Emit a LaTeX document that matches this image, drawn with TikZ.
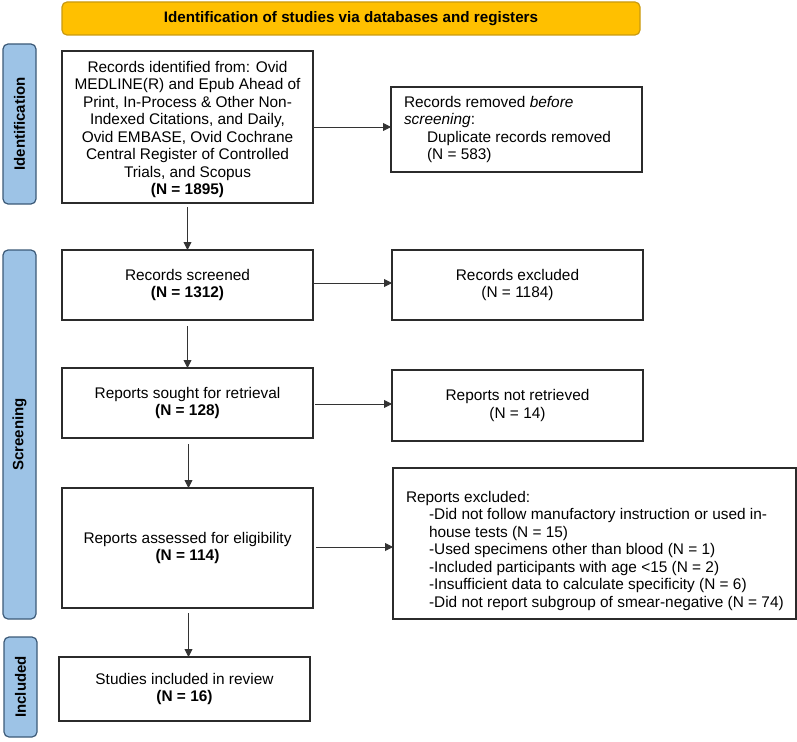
\documentclass[tikz,border=0pt]{standalone}
\usepackage{fontspec}
\setmainfont{Liberation Sans}
\usetikzlibrary{arrows.meta}
\definecolor{titlefill}{HTML}{FFC000}
\definecolor{titledraw}{HTML}{C99A10}
\definecolor{sidefill}{HTML}{9DC3E6}
\definecolor{sidedraw}{HTML}{3C5A78}
\definecolor{boxdraw}{HTML}{2B2B2B}
\tikzset{
  x=1pt, y=-1pt,
  every node/.style={font=\fontsize{15.4}{17.5}\selectfont, inner sep=0pt, outer sep=0pt},
  flowbox/.style={draw=boxdraw, line width=1.3pt, fill=white, align=center},
  sidebox/.style={draw=sidedraw, fill=sidefill, line width=1.2pt, rounded corners=5pt, rotate=90, minimum height=33pt, font=\fontsize{15}{17}\selectfont\bfseries},
  titlebox/.style={draw=titledraw, fill=titlefill, line width=1.2pt, rounded corners=5pt, font=\fontsize{15.2}{17}\selectfont\bfseries},
  flowarrow/.style={draw=black!80, line width=0.9pt, -{Triangle[length=8pt,width=8pt]}}
}
\begin{document}
\begin{tikzpicture}
\useasboundingbox (0,0) rectangle (797,741);
% title and side labels
\node[titlebox, minimum width=578pt, minimum height=33pt] (title) at (351,18.5) {Identification of studies via databases and registers};
\node[sidebox, minimum width=160pt] (sideid) at (19.5,124) {Identification};
\node[sidebox, minimum width=369pt] (sidescr) at (19.5,434.5) {Screening};
\node[sidebox, minimum width=100pt] (sideinc) at (20.5,687) {Included};
% main column
\node[flowbox, minimum width=251pt, minimum height=152pt] (ident) at (187.5,127) {};
\node[align=center] (identtxt) at ([yshift=-2.5pt]ident.center) {Records identified from: Ovid\\MEDLINE(R) and Epub Ahead of\\Print, In-Process \& Other Non-\\Indexed Citations, and Daily,\\Ovid EMBASE, Ovid Cochrane\\Central Register of Controlled\\Trials, and Scopus\\\textbf{(N = 1895)}};
\node[flowbox, minimum width=251pt, minimum height=70pt] (screened) at (187.5,285) {Records screened\\\textbf{(N = 1312)}};
\node[flowbox, minimum width=251pt, minimum height=70pt] (sought) at (187.5,403) {Reports sought for retrieval\\\textbf{(N = 128)}};
\node[flowbox, minimum width=251pt, minimum height=120pt] (assessed) at (187.5,548) {Reports assessed for eligibility\\\textbf{(N = 114)}};
\node[flowbox, minimum width=251pt, minimum height=64pt] (included) at (184.5,689) {Studies included in review\\\textbf{(N = 16)}};
% right column
\node[draw=boxdraw, line width=1.3pt, fill=white, minimum width=251pt, minimum height=85pt] (removed) at (516.5,129.5) {};
\node[anchor=north west, align=left] (removedtxt) at ([xshift=13pt,yshift=-9pt]removed.north west) {Records removed \textit{before}\\\textit{screening}:\\\hspace*{23pt}Duplicate records removed\\\hspace*{23pt}(N = 583)};
\node[flowbox, minimum width=251pt, minimum height=70pt] (excluded) at (517.5,285) {Records excluded\\(N = 1184)};
\node[flowbox, minimum width=251pt, minimum height=71pt] (notret) at (517.5,405.5) {Reports not retrieved\\(N = 14)};
\node[draw=boxdraw, line width=1.3pt, fill=white, minimum width=403pt, minimum height=151pt] (repexcl) at (594.5,543.5) {};
\node[anchor=north west, align=left] (repexcltxt) at ([xshift=13pt,yshift=-23pt]repexcl.north west) {Reports excluded:\\\hspace*{23pt}-Did not follow manufactory instruction or used in-\\\hspace*{23pt}house tests (N = 15)\\\hspace*{23pt}-Used specimens other than blood (N = 1)\\\hspace*{23pt}-Included participants with age <15 (N = 2)\\\hspace*{23pt}-Insufficient data to calculate specificity (N = 6)\\\hspace*{23pt}-Did not report subgroup of smear-negative (N = 74)};
% vertical arrows
\draw[flowarrow] ([yshift=-4pt]ident.south) -- (screened.north);
\draw[flowarrow] ([yshift=-6pt]screened.south) -- (sought.north);
\draw[flowarrow] ([xshift=1pt,yshift=-6pt]sought.south) -- ([xshift=1pt]assessed.north);
\coordinate (incstart) at ([xshift=1pt,yshift=-5pt]assessed.south);
\draw[flowarrow] (incstart) -- (incstart |- included.north);
% horizontal arrows
\draw[flowarrow] (ident.east) -- (ident.east -| removed.west);
\draw[flowarrow] ([yshift=2pt]screened.east) -- ([yshift=2pt]screened.east -| excluded.west);
\draw[flowarrow] ([xshift=2pt,yshift=-1pt]sought.east) -- ([yshift=-1pt]sought.east -| notret.west);
\draw[flowarrow] ([xshift=3pt,yshift=1pt]assessed.east) -- ([yshift=1pt]assessed.east -| repexcl.west);
\end{tikzpicture}
\end{document}
